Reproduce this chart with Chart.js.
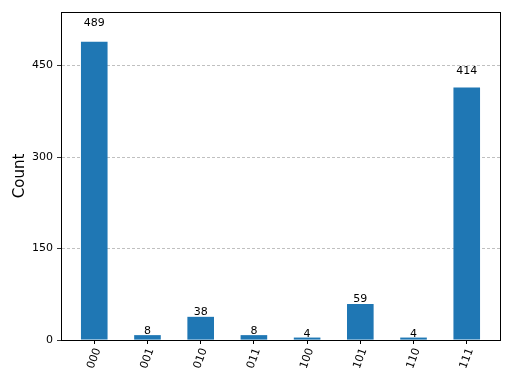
<!DOCTYPE html>
<html lang="en">
<head>
    <meta charset="UTF-8">
    <title>Counts histogram</title>
    <script src="https://cdn.jsdelivr.net/npm/chart.js"></script>
    <style>
        body { margin: 0; padding: 0; background: #ffffff; }
        #wrap { width: 512px; height: 384px; }
    </style>
</head>
<body>
    <div id="wrap"><canvas id="histChart" width="512" height="384"></canvas></div>
    <script>
        // bitstring outcomes and their counts
        const states = ['000', '001', '010', '011', '100', '101', '110', '111'];
        const counts = [489, 8, 38, 8, 4, 59, 4, 414];
        const yTicks = [0, 150, 300, 450];

        const yMax = Math.max(...counts) * 1.1;
        const barColor = '#1f77b4';
        const fontFam = '"DejaVu Sans"';

        // value labels sit just above each bar (1.05 * height)
        const barLabels = {
            id: 'barLabels',
            afterDatasetsDraw(chart) {
                const ctx = chart.ctx;
                const xs = chart.scales.x, ys = chart.scales.y;
                ctx.save();
                ctx.fillStyle = '#000';
                ctx.font = '11px ' + fontFam;
                ctx.textAlign = 'center';
                ctx.textBaseline = 'bottom';
                counts.forEach((v, i) => {
                    ctx.fillText(String(v), xs.getPixelForValue(i), ys.getPixelForValue(v * 1.05) + 2);
                });
                ctx.restore();
            }
        };

        // rotated x labels, centred under the tick like matplotlib's ha='center'
        const xLabels = {
            id: 'xLabels',
            afterDraw(chart) {
                const ctx = chart.ctx, xs = chart.scales.x;
                ctx.save();
                ctx.fillStyle = '#000';
                ctx.font = '11px ' + fontFam;
                ctx.textAlign = 'center';
                ctx.textBaseline = 'middle';
                states.forEach((s, i) => {
                    ctx.save();
                    ctx.translate(xs.getPixelForValue(i), xs.top + 18.5);
                    ctx.rotate(-70 * Math.PI / 180);
                    ctx.fillText(s, 0, 0);
                    ctx.restore();
                });
                ctx.restore();
            }
        };

        // full black frame around the plot area
        const frame = {
            id: 'frame',
            afterDraw(chart) {
                const a = chart.chartArea, ctx = chart.ctx;
                ctx.save();
                ctx.strokeStyle = '#000';
                ctx.lineWidth = 1;
                ctx.strokeRect(Math.round(a.left) + 0.5, Math.round(a.top) + 0.5,
                    Math.round(a.right - a.left), Math.round(a.bottom - a.top));
                ctx.restore();
            }
        };

        const ctx = document.getElementById('histChart').getContext('2d');
        new Chart(ctx, {
            type: 'bar',
            data: {
                datasets: [{
                    data: counts.map((c, i) => ({ x: i, y: c })),
                    backgroundColor: barColor,
                    borderWidth: 0,
                    barPercentage: 0.5,
                    categoryPercentage: 1.0
                }]
            },
            plugins: [barLabels, xLabels, frame],
            options: {
                responsive: false,
                animation: false,
                layout: { padding: { left: 0, right: 12, top: 12, bottom: 0 } },
                plugins: { legend: { display: false }, tooltip: { enabled: false } },
                scales: {
                    x: {
                        type: 'linear',
                        offset: false,
                        min: -0.625,
                        max: 7.625,
                        afterBuildTicks: s => { s.ticks = states.map((_, i) => ({ value: i })); },
                        afterFit: s => { s.height = 44; },
                        grid: { offset: false, drawOnChartArea: false, drawTicks: true, tickLength: 4, tickColor: '#000' },
                        border: { display: true, color: '#000' },
                        ticks: { display: false }
                    },
                    y: {
                        min: 0,
                        max: yMax,
                        afterBuildTicks: s => { s.ticks = yTicks.map(v => ({ value: v })); },
                        afterFit: s => { s.width = 61; },
                        grid: {
                            color: '#b0b0b0',
                            lineWidth: 0.8,
                            tickLength: 4,
                            tickColor: '#000',
                            tickBorderDash: []
                        },
                        border: { display: true, color: '#000', dash: [3, 2] },
                        ticks: {
                            padding: 4,
                            color: '#000',
                            font: { family: 'DejaVu Sans', size: 11 }
                        },
                        title: {
                            display: true,
                            text: 'Count',
                            color: '#000',
                            padding: { top: 11, bottom: 0 },
                            font: { family: 'DejaVu Sans', size: 15 }
                        }
                    }
                }
            }
        });
    </script>
</body>
</html>
